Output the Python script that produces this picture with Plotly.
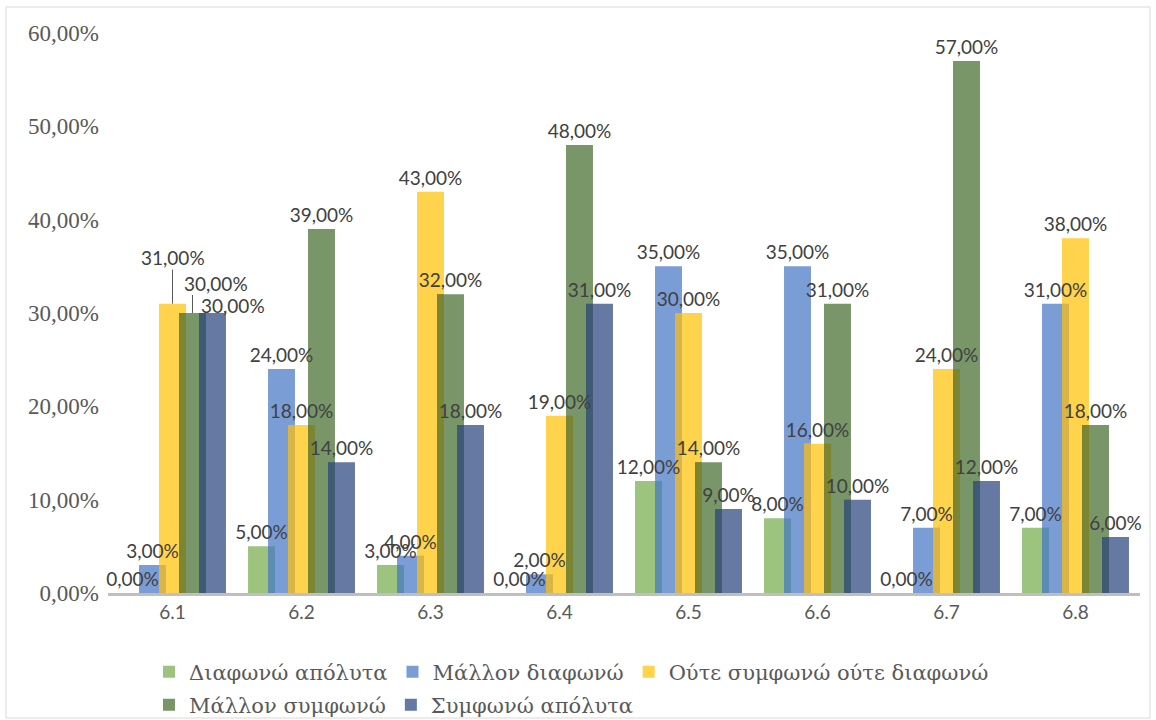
import plotly.graph_objects as go
import numpy as np

categories = ["6.1", "6.2", "6.3", "6.4", "6.5", "6.6", "6.7", "6.8"]
series_names = ["Διαφωνώ απόλυτα", "Μάλλον διαφωνώ", "Ούτε συμφωνώ ούτε διαφωνώ",
                "Μάλλον συμφωνώ", "Συμφωνώ απόλυτα"]
diafono_apolyta = [0, 5, 3, 0, 12, 8, 0, 7]
mallon_diafono = [3, 24, 4, 2, 35, 35, 7, 31]
oute_oute = [31, 18, 43, 19, 30, 16, 24, 38]
mallon_symfono = [30, 39, 32, 48, 14, 31, 57, 18]
symfono_apolyta = [30, 14, 18, 31, 9, 10, 12, 6]
y_ticks = [0, 10, 20, 30, 40, 50, 60]
y_tick_labels = [f"{v:.2f}%".replace(".", ",") for v in y_ticks]

series = [diafono_apolyta, mallon_diafono, oute_oute, mallon_symfono, symfono_apolyta]
colors = ["#9DC47F", "#7B9DD6", "#FFD34B", "#799669", "#6579A3"]
overlap_colors = ["#5C8DB0", "#D9B548", "#7B8532", "#3F5B74"]

W = 0.209      # bar width (category units)
STEP = 0.155   # distance between neighbouring bars
N = len(categories)
LABEL_FONT = dict(family="Lato", size=19, color="#404040")

def off(i):
    return (i - 2) * STEP - W / 2

def pct(v):
    return f"{v:.2f}%".replace(".", ",")

fig = go.Figure()

# main bars
for i, (name, vals) in enumerate(zip(series_names, series)):
    fig.add_trace(go.Bar(
        x=categories, y=vals, name=name, width=[W] * N, offset=off(i),
        marker=dict(color=colors[i], line=dict(width=0)),
        legend="legend" if i < 3 else "legend2",
        hoverinfo="skip",
    ))

# overlap strips (darker where neighbouring bars overlap)
for i in range(4):
    h = np.minimum(series[i], series[i + 1])
    fig.add_trace(go.Bar(
        x=categories, y=h, width=[W - STEP] * N, offset=off(i + 1),
        marker=dict(color=overlap_colors[i], line=dict(width=0)),
        showlegend=False, hoverinfo="skip",
    ))

# displaced labels of the 6.1 group (pixel shifts) and leader-line lengths (pixels)
special = {(0, 2): (0, 46), (0, 3): (23.5, 30), (0, 4): (20.5, 8)}
leaders = {(0, 2): 34, (0, 3): 18}

# data labels on transparent bars drawn last
for i, vals in enumerate(series):
    txt = ["" if (j, i) in special else pct(v) for j, v in enumerate(vals)]
    fig.add_trace(go.Bar(
        x=categories, y=vals, width=[W] * N, offset=off(i),
        marker=dict(color="rgba(0,0,0,0)", line=dict(width=0)),
        text=txt, textposition="outside", constraintext="none", cliponaxis=False,
        textfont=LABEL_FONT, showlegend=False, hoverinfo="skip",
    ))

PX_PER_UNIT = 560 / 60.0
for (j, i), (dx, dy) in special.items():
    v = series[i][j]
    xc = j + off(i) + W / 2
    fig.add_annotation(x=xc, y=v, xref="x", yref="y", text=pct(v),
                       showarrow=False, xshift=dx, yshift=dy, font=LABEL_FONT)
for (j, i), length in leaders.items():
    v = series[i][j]
    xc = j + off(i) + W / 2
    fig.add_shape(type="line", xref="x", yref="y", x0=xc, x1=xc, y0=v,
                  y1=v + length / PX_PER_UNIT, line=dict(color="#595959", width=1))

# outer chart border
L, T, PW, PH = 108, 33, 1032, 560
def px_x(p):
    return (p - L) / PW
def px_y(p):
    return (T + PH - p) / PH
fig.add_shape(type="rect", xref="paper", yref="paper",
              x0=px_x(6), x1=px_x(1150), y0=px_y(718), y1=px_y(7),
              line=dict(color="#D9D9D9", width=1), fillcolor="rgba(0,0,0,0)", layer="below")

legend_style = dict(orientation="h", xanchor="left", yanchor="middle",
                    font=dict(family="DejaVu Serif", size=21, color="#595959"),
                    bgcolor="rgba(0,0,0,0)", itemclick=False, itemdoubleclick=False)

fig.update_layout(
    width=1156, height=720,
    margin=dict(l=L, r=1156 - L - PW, t=T, b=720 - T - PH, autoexpand=False),
    paper_bgcolor="white", plot_bgcolor="white",
    barmode="overlay", separators=",.",
    showlegend=True,
    legend=dict(x=px_x(149), y=px_y(672), **legend_style),
    legend2=dict(x=px_x(149), y=px_y(705), **legend_style),
    xaxis=dict(type="category", categoryorder="array", categoryarray=categories,
               range=[-0.5, N - 0.5], showgrid=False, zeroline=False,
               showline=True, linecolor="#BFBFBF", linewidth=3, ticks="",
               tickfont=dict(family="Lato", size=19, color="#595959"),
               ticklabelstandoff=0),
    yaxis=dict(range=[0, 60], tickvals=y_ticks, ticktext=y_tick_labels,
               showgrid=False, zeroline=False, showline=False, ticks="",
               tickfont=dict(family="Liberation Serif", size=23, color="#595959"),
               ticklabelstandoff=8),
)

fig.write_html("out.html", config={"displayModeBar": False},
               post_script="document.body.style.margin='0';")
